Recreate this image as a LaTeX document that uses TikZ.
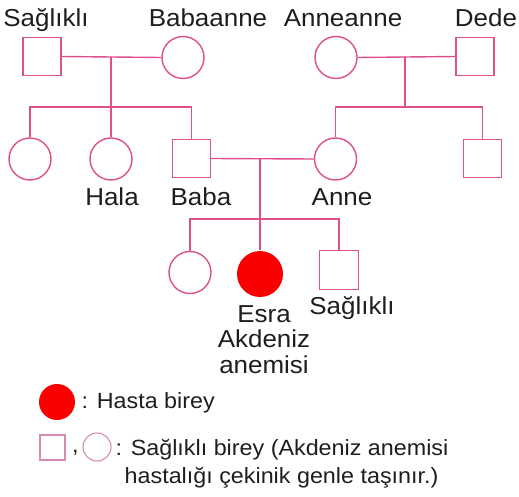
\documentclass[tikz,border=0pt]{standalone}
\usepackage{fontspec}
\setmainfont{Liberation Sans}[FakeStretch=1.06]
\begin{document}
\definecolor{linepink}{RGB}{222,80,140}
\definecolor{softpink}{RGB}{212,140,180}
\definecolor{sickred}{RGB}{250,0,0}
\definecolor{inkgray}{RGB}{30,30,30}
\begin{tikzpicture}[x=1pt,y=-1pt,
  line width=1.4pt,
  male/.style={draw=linepink,rectangle,minimum size=38pt,inner sep=0pt},
  female/.style={draw=linepink,circle,minimum size=42pt,inner sep=0pt},
  sick/.style={fill=sickred,draw=none,circle,minimum size=46pt,inner sep=0pt},
  link/.style={draw=linepink,line width=1.4pt},
  lbl/.style={anchor=base,inner sep=0pt,text=inkgray,font=\fontsize{24.5}{25.5}\selectfont},
  leg/.style={anchor=base west,inner sep=0pt,text=inkgray,font=\fontsize{22}{26}\selectfont}]
\useasboundingbox (0,0) rectangle (519,497);

% grandparents, father's side
\node[male]   (gpa1) at (42,56.5) {};
\node[female] (gma1) at (183,57.5) {};
% grandparents, mother's side
\node[female] (gma2) at (336,57.5) {};
\node[male]   (gpa2) at (475,56.5) {};

% second generation
\node[female] (aunt1) at (30,159) {};
\node[female] (hala)  at (111,159) {};
\node[male]   (baba)  at (191.5,158.5) {};
\node[female] (anne)  at (335.5,159) {};
\node[male]   (uncle) at (482.5,158.5) {};

% third generation
\node[female] (sis)  at (190,272.5) {};
\node[sick]   (esra) at (260,274) {};
\node[male,minimum size=39pt] (bro) at (339,270) {};

% couple and sibling lines
\coordinate (m1) at (111,57.5);
\coordinate (s1) at (111,107);
\coordinate (m2) at (405,57.5);
\coordinate (s2) at (405,107);
\coordinate (m3) at (260,159);
\coordinate (s3) at (260,219);

\draw[link] (gpa1.east) -- (gma1.west);
\draw[link] (m1) -- (s1);
\draw[link] (aunt1.north) |- (s1) -| (baba.north);
\draw[link] (hala.north) -- (hala.north |- s1);

\draw[link] (gma2.east) -- (gpa2.west);
\draw[link] (m2) -- (s2);
\draw[link] (anne.north) |- (s2) -| (uncle.north);

\draw[link] (baba.east) -- (anne.west);
\draw[link] (m3) -- (s3);
\draw[link] (sis.north) |- (s3) -| (bro.north);
\draw[link] (s3) -- (esra.north);

% names
\node[lbl] (tGpa1) at (46,26.5) {Sağlıklı};
\node[lbl] (tGma1) at (208,26.5) {Babaanne};
\node[lbl] (tGma2) at (343,26.5) {Anneanne};
\node[lbl] (tGpa2) at (486,26.5) {Dede};
\node[lbl] (tHala) at (112,205.5) {Hala};
\node[lbl] (tBaba) at (201,205.5) {Baba};
\node[lbl] (tAnne) at (342,205.5) {Anne};
\node[lbl] (tEsra1) at (264,322) {Esra};
\node[lbl] (tEsra2) at (264,347.5) {Akdeniz};
\node[lbl] (tEsra3) at (264,373) {anemisi};
\node[lbl] (tBro) at (352,314.5) {Sağlıklı};

% key
\node[sick,minimum size=36pt] (kSick) at (57,402) {};
\node[leg] (kSickT) at (81,408) {: Hasta birey};
\node[draw=softpink,rectangle,minimum size=25pt,inner sep=0pt,line width=1.1pt] (kMale) at (52.5,447.5) {};
\node[leg] (kComma) at (71.5,452) {,};
\node[draw=softpink,circle,minimum size=28pt,inner sep=0pt,line width=1.1pt] (kFemale) at (97,447) {};
\node[leg] (kWell1) at (115,455) {: Sağlıklı birey (Akdeniz anemisi};
\node[leg] (kWell2) at (124,483) {hastalığı çekinik genle taşınır.)};
\end{tikzpicture}
\end{document}
